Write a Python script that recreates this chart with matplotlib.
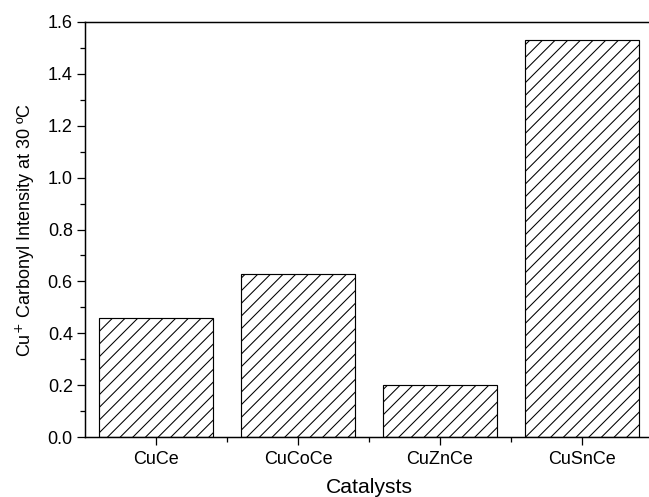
import matplotlib
matplotlib.use('Agg')
import matplotlib.pyplot as plt
from matplotlib.ticker import MultipleLocator, FixedLocator, FormatStrFormatter

catalysts = ['CuCe', 'CuCoCe', 'CuZnCe', 'CuSnCe']
intensity = [0.46, 0.63, 0.20, 1.53]

plt.rcParams['font.family'] = ['Liberation Sans', 'DejaVu Sans']
plt.rcParams['hatch.linewidth'] = 1.0

DPI = 76
fig = plt.figure(figsize=(649 / DPI, 497 / DPI), dpi=DPI)
ax = fig.add_axes([85 / 649, 1 - 437 / 497, (653 - 85) / 649, (437 - 22) / 497])

x = list(range(1, len(catalysts) + 1))
ax.bar(x, intensity, width=0.8, color='white', edgecolor='black',
       linewidth=1.1, hatch='//')

ax.set_xlim(0.5, 4.5)
ax.set_ylim(0, 1.6)
ax.set_xticks(x)
ax.set_xticklabels(catalysts)
ax.xaxis.set_minor_locator(FixedLocator([1.5, 2.5, 3.5]))
ax.yaxis.set_major_locator(MultipleLocator(0.2))
ax.yaxis.set_minor_locator(MultipleLocator(0.1))
ax.yaxis.set_major_formatter(FormatStrFormatter('%.1f'))

ax.tick_params(which='major', direction='out', length=7.5, width=1.2,
               labelsize=17, pad=4, colors='black')
ax.tick_params(axis='x', which='major', pad=6)
ax.tick_params(which='minor', direction='out', length=4.5, width=1.2)

for s in ax.spines.values():
    s.set_linewidth(1.4)

ax.set_xlabel('Catalysts', fontsize=20, labelpad=9)
ax.set_ylabel('Cu$^{+}$ Carbonyl Intensity at 30 ºC', fontsize=17, labelpad=10)

fig.savefig('out.png', dpi=DPI)
